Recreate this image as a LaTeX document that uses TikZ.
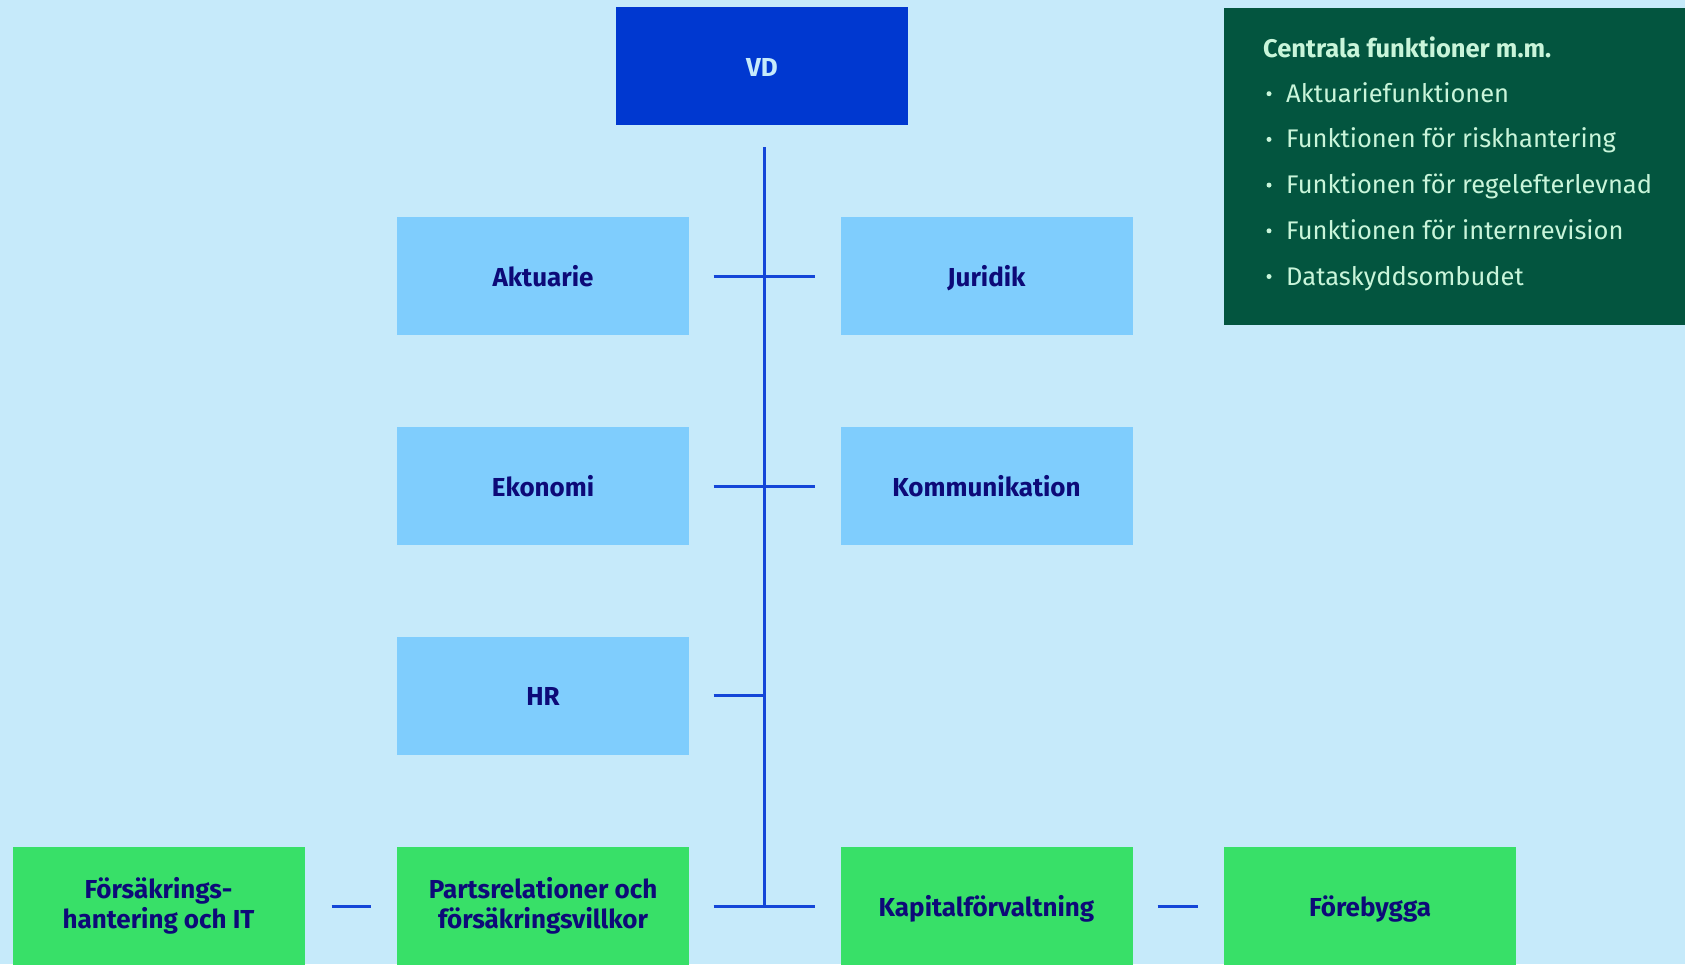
\documentclass[tikz,border=0pt]{standalone}
\usepackage{fontspec}
\setmainfont{Fira Sans}
\usetikzlibrary{calc}
\definecolor{bg}{HTML}{C6EAFA}
\definecolor{vdblue}{HTML}{0038D0}
\definecolor{staffbg}{HTML}{7FCDFD}
\definecolor{corebg}{HTML}{38E068}
\definecolor{panelbg}{HTML}{03553F}
\definecolor{navy}{HTML}{0D0A78}
\definecolor{mint}{HTML}{C9F5DA}
\definecolor{linkc}{HTML}{1446D8}
\tikzset{
  box/.style={minimum width=292pt, minimum height=118pt, inner sep=0pt, align=center, text=navy, font=\bfseries\fontsize{26}{30}\selectfont},
  one/.style={text height=20pt, text depth=0pt},
  topbox/.style={box, one, fill=vdblue, text=bg},
  staff/.style={box, one, fill=staffbg},
  core/.style={box, fill=corebg},
  link/.style={draw=linkc, line width=3pt},
  head/.style={anchor=base west, inner sep=0pt, text=mint, font=\bfseries\fontsize{25.5}{28}\selectfont},
  item/.style={anchor=base west, inner sep=0pt, text=mint, font=\fontsize{25.5}{28}\selectfont},
  dotb/.style={circle, fill=mint, inner sep=0pt, minimum size=5pt},
}
\begin{document}
\begin{tikzpicture}[x=1pt,y=-1pt]
  \useasboundingbox (0,0) rectangle (1685,964);
  \fill[bg] (0,0) rectangle (1685,964);
  % top and staff units
  \node[topbox] (vd) at (762,66) {VD};
  \node[staff] (akt) at (543,276) {Aktuarie};
  \node[staff] (jur) at (986.5,276) {Juridik};
  \node[staff] (eko) at (543,486) {Ekonomi};
  \node[staff] (kom) at (986.5,486) {Kommunikation};
  \node[staff] (hr) at (543,695.5) {HR};
  % core units, bottom row
  \node[core] (fors) at (158.5,906) {Försäkrings-\\hantering och IT};
  \node[core] (parts) at (543,906) {Partsrelationer och\\försäkringsvillkor};
  \node[core, one] (kap) at (986.5,906) {Kapitalförvaltning};
  \node[core, one] (fore) at (1370,906) {Förebygga};
  % trunk and ticks
  \coordinate (trunktop) at (764,147);
  \coordinate (trunkbot) at (764,906);
  \draw[link] (trunktop) -- (trunkbot);
  \draw[link] ([xshift=24.5pt]akt.east) -- ([xshift=-25.5pt]jur.west);
  \draw[link] ([xshift=24.5pt]eko.east) -- ([xshift=-25.5pt]kom.west);
  \draw[link] ([xshift=24.5pt]hr.east) -- (hr.east -| trunktop);
  \draw[link] ([xshift=24.5pt]parts.east) -- ([xshift=-25.5pt]kap.west);
  \draw[link] ([xshift=27pt]fors.east) -- ([xshift=-25.5pt]parts.west);
  \draw[link] ([xshift=25pt]kap.east) -- ([xshift=-26pt]fore.west);
  % central functions panel
  \fill[panelbg] (1224,7.5) rectangle (1700,324.5);
  \node[head] (cf) at (1263,57) {Centrala funktioner m.m.};
  \foreach \txt [count=\i] in {Aktuariefunktionen, Funktionen för riskhantering,
      Funktionen för regelefterlevnad, Funktionen för internrevision, Dataskyddsombudet} {
    \node[item] (f\i) at (1286,{56.5+45.7*\i}) {\txt};
    \node[dotb] at ([xshift=-17pt,yshift=8.5pt]f\i.base west) {};
  }
\end{tikzpicture}
\end{document}
